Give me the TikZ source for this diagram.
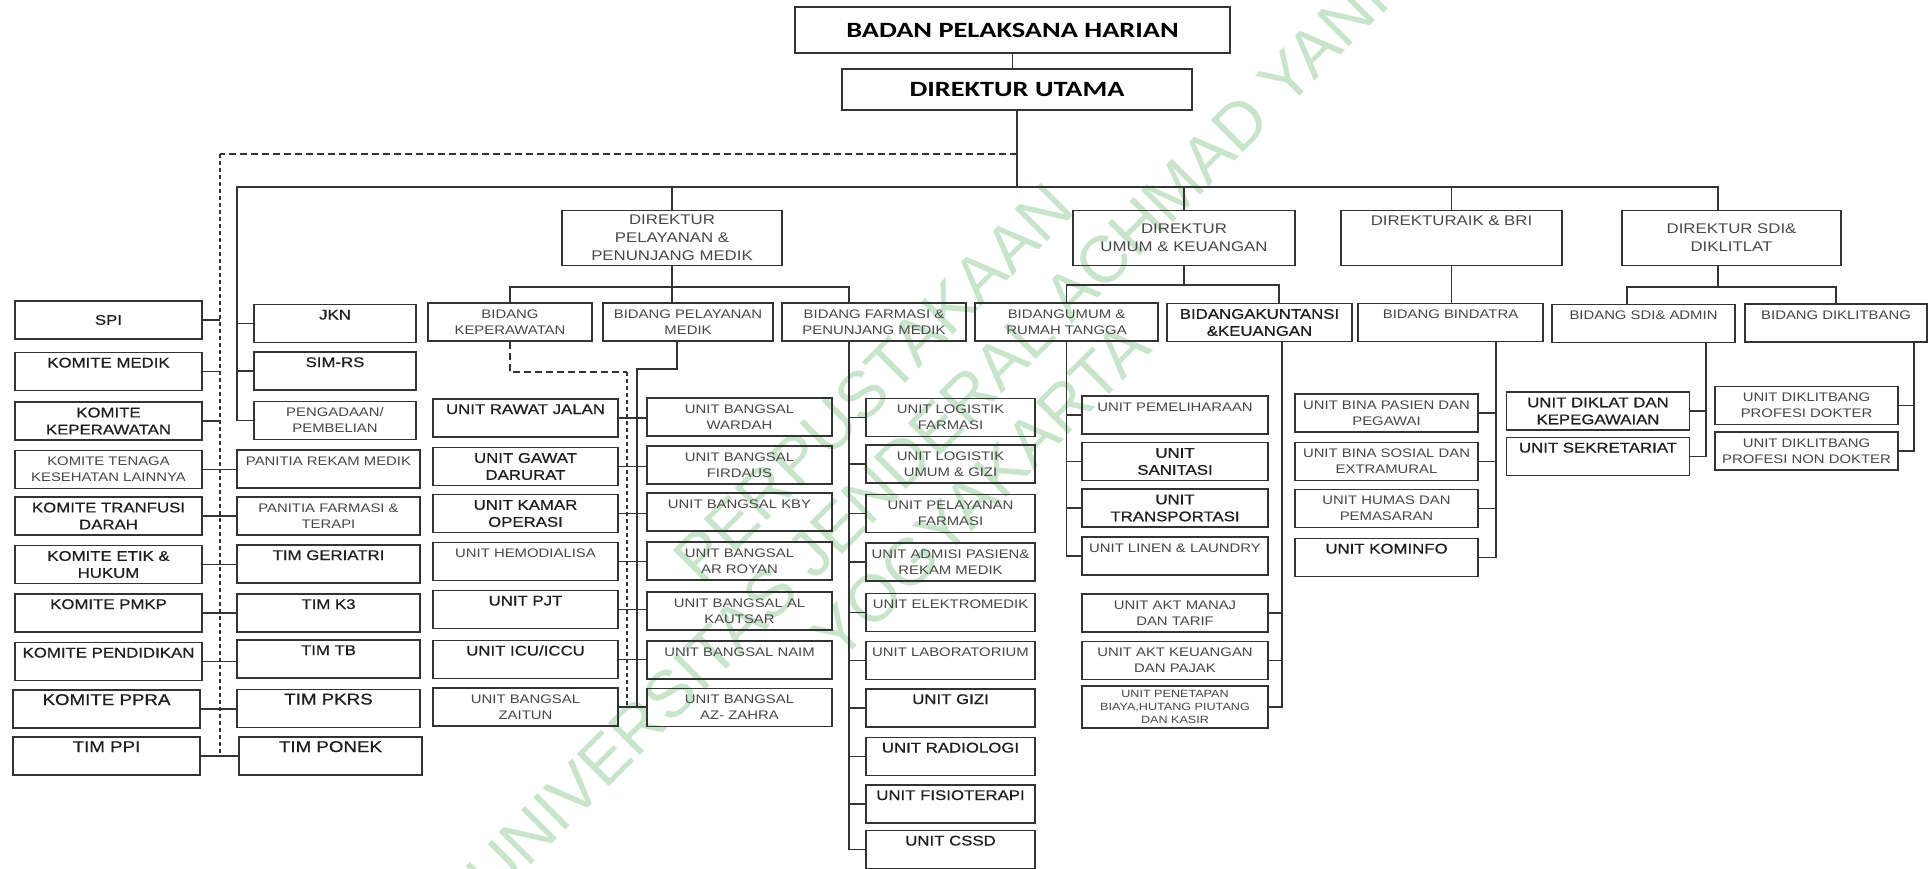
\documentclass[tikz,border=0pt]{standalone}
\usepackage{fontspec}
\setmainfont{Liberation Sans}[FakeStretch=1.2]
\newfontfamily\regfont{Liberation Sans}[FakeStretch=1.2, FakeBold=0.6]
\newfontfamily\headfont{Carlito}[FakeStretch=1.3]
\newfontfamily\markfont{Liberation Sans}
\definecolor{edge}{HTML}{333333}
\definecolor{ink}{HTML}{1E1E1E}
\definecolor{inkl}{HTML}{474747}
\definecolor{wmark}{HTML}{C8E4CA}
\newcommand\fslite{\fontsize{12.4}{16}\selectfont}
\newcommand\fsreg{\regfont\fontsize{14}{17}\selectfont}
\newcommand\fsbig{\regfont\fontsize{15.6}{18}\selectfont}
\newcommand\fsdir{\fontsize{14}{18}\selectfont}
\newcommand\fstiny{\fontsize{10.5}{13}\selectfont}

\begin{document}
\begin{tikzpicture}[x=1pt, y=-1pt,
  box/.style={draw=edge, line width=1.8pt, inner xsep=1pt, inner ysep=4pt, align=center,
              minimum height=38pt, text=ink, font=\fsreg},
  lite/.style={text=inkl, font=\fslite},
  big/.style={font=\fsbig},
  toptext/.style={text height=11pt, text depth=19pt},
  head/.style={box, text=black, font=\headfont\bfseries\fontsize{21.8}{26}\selectfont},
  dir/.style={box, text=inkl, font=\fsdir, minimum height=55pt},
  bd/.style={box, lite},
  kom/.style={box, minimum width=187pt},
  jk/.style={box, minimum width=162pt},
  pan/.style={box, minimum width=183pt},
  ua/.style={box, minimum width=185pt},
  uf/.style={box, minimum width=169pt},
  uu/.style={box, minimum width=186pt},
  un/.style={box, minimum width=183pt},
  link/.style={draw=edge, line width=1.8pt},
  dsh/.style={link, dash pattern=on 7pt off 4pt},
  dot/.style={link, dash pattern=on 4pt off 3pt},
  wmk/.style={rotate=45, align=center, text=wmark, font=\markfont\fontsize{66}{76}\selectfont},
]
  \path[fill=white, use as bounding box] (0,0) rectangle (1932,869);

  \node[wmk] (wm) at (927,437) {PERPUSTAKAAN\\UNIVERSITAS JENDERAL ACHMAD YANI\\YOGYAKARTA};

  \node[head, minimum width=435pt, minimum height=46pt] (bph) at (1012.5,30) {BADAN PELAKSANA HARIAN};
  \node[head, minimum width=350pt, minimum height=41pt] (du) at (1017,89.5) {DIREKTUR UTAMA};

  \node[dir, minimum width=220pt] (dp) at (672,238) {DIREKTUR\\PELAYANAN \&\\PENUNJANG MEDIK};
  \node[dir, minimum width=222pt] (duk) at (1184,238) {DIREKTUR\\UMUM \& KEUANGAN};
  \node[dir, minimum width=221pt, text height=11pt, text depth=36pt] (drb) at (1451.5,238) {DIREKTURAIK \& BRI};
  \node[dir, minimum width=219pt] (dsd) at (1731.5,238) {DIREKTUR SDI\&\\DIKLITLAT};

  \node[bd, minimum width=164pt] (bkep) at (510,322) {BIDANG\\KEPERAWATAN};
  \node[bd, minimum width=170pt] (bpm) at (688,322) {BIDANG PELAYANAN\\MEDIK};
  \node[bd, minimum width=184pt] (bfar) at (874,322) {BIDANG FARMASI \&\\PENUNJANG MEDIK};
  \node[bd, minimum width=183pt] (bum) at (1066.5,322) {BIDANGUMUM \&\\RUMAH TANGGA};
  \node[box, minimum width=185pt] (bak) at (1259.5,322.5) {BIDANGAKUNTANSI\\\&KEUANGAN};
  \node[bd, toptext, minimum width=185pt] (bbd) at (1450.5,322.5) {BIDANG BINDATRA};
  \node[bd, toptext, minimum width=183pt] (bsa) at (1643.5,323.5) {BIDANG SDI\& ADMIN};
  \node[bd, toptext, minimum width=182pt] (bdk) at (1836,323) {BIDANG DIKLITBANG};

  \node[kom] (spi) at (108.5,320) {SPI};
  \node[kom, toptext] (kmed) at (108.5,371.5) {KOMITE MEDIK};
  \node[kom] (kkep) at (108.5,421) {KOMITE\\KEPERAWATAN};
  \node[kom, lite] (ktk) at (108.5,469.5) {KOMITE TENAGA\\KESEHATAN LAINNYA};
  \node[kom] (ktd) at (108.5,516) {KOMITE TRANFUSI\\DARAH};
  \node[kom] (keh) at (108.5,564.5) {KOMITE ETIK \&\\HUKUM};
  \node[kom, toptext] (kpm) at (108.5,613) {KOMITE PMKP};
  \node[kom, toptext] (kpd) at (108.5,661.5) {KOMITE PENDIDIKAN};
  \node[kom, big, toptext] (kpp) at (106.5,709) {KOMITE PPRA};
  \node[kom, big, toptext] (ppi) at (106.5,756) {TIM PPI};

  \node[jk, toptext] (jkn) at (335,323.5) {JKN};
  \node[jk, toptext] (sim) at (335,371) {SIM-RS};
  \node[jk, lite] (pgd) at (335,420.5) {PENGADAAN/\\PEMBELIAN};
  \node[pan, lite, toptext] (prm) at (328.5,469) {PANITIA REKAM MEDIK};
  \node[pan, lite] (pft) at (328.5,516) {PANITIA FARMASI \&\\TERAPI};
  \node[pan, toptext] (tge) at (328.5,564) {TIM GERIATRI};
  \node[pan, toptext] (tk3) at (328.5,613) {TIM K3};
  \node[pan, toptext] (ttb) at (328.5,659) {TIM TB};
  \node[pan, big, toptext] (tpk) at (328.5,708.5) {TIM PKRS};
  \node[pan, big, toptext] (tpn) at (330.5,756) {TIM PONEK};

  \node[ua, toptext] (urj) at (525.5,418) {UNIT RAWAT JALAN};
  \node[ua] (ugd) at (525.5,466.5) {UNIT GAWAT\\DARURAT};
  \node[ua] (uko) at (525.5,513.5) {UNIT KAMAR\\OPERASI};
  \node[ua, lite, toptext] (uhd) at (525.5,561.5) {UNIT HEMODIALISA};
  \node[ua, toptext] (upj) at (525.5,609.5) {UNIT PJT};
  \node[ua, toptext] (uic) at (525.5,659.5) {UNIT ICU/ICCU};
  \node[ua, lite] (uzt) at (525.5,707) {UNIT BANGSAL\\ZAITUN};

  \node[ua, lite] (uwd) at (739.5,417) {UNIT BANGSAL\\WARDAH};
  \node[ua, lite] (ufd) at (739.5,465) {UNIT BANGSAL\\FIRDAUS};
  \node[ua, lite, toptext] (ukb) at (739.5,512) {UNIT BANGSAL KBY};
  \node[ua, lite] (uar) at (739.5,561) {UNIT BANGSAL\\AR ROYAN};
  \node[ua, lite] (ukt) at (739.5,611) {UNIT BANGSAL AL\\KAUTSAR};
  \node[ua, lite, toptext] (unm) at (739.5,660) {UNIT BANGSAL NAIM};
  \node[ua, lite] (uaz) at (739.5,707.5) {UNIT BANGSAL\\AZ- ZAHRA};

  \node[uf, lite] (ulf) at (950.5,417.5) {UNIT LOGISTIK\\FARMASI};
  \node[uf, lite] (ulu) at (950.5,464) {UNIT LOGISTIK\\UMUM \& GIZI};
  \node[uf, lite] (upf) at (950.5,513.5) {UNIT PELAYANAN\\FARMASI};
  \node[uf, lite] (uap) at (950.5,562) {UNIT ADMISI PASIEN\&\\REKAM MEDIK};
  \node[uf, lite, toptext] (uel) at (950.5,612.5) {UNIT ELEKTROMEDIK};
  \node[uf, lite, toptext] (ulb) at (950.5,660.5) {UNIT LABORATORIUM};
  \node[uf, toptext] (ugz) at (950.5,708) {UNIT GIZI};
  \node[uf, toptext] (urd) at (950.5,756.5) {UNIT RADIOLOGI};
  \node[uf, toptext] (ufs) at (950.5,804) {UNIT FISIOTERAPI};
  \node[uf, toptext] (ucs) at (950.5,849.5) {UNIT CSSD};

  \node[uu, lite, toptext] (upm) at (1175,415) {UNIT PEMELIHARAAN};
  \node[uu] (usn) at (1175,461.5) {UNIT\\SANITASI};
  \node[uu] (utr) at (1175,508) {UNIT\\TRANSPORTASI};
  \node[uu, lite, toptext] (ull) at (1175,556) {UNIT LINEN \& LAUNDRY};
  \node[uu, lite] (umt) at (1175,613) {UNIT AKT MANAJ\\DAN TARIF};
  \node[uu, lite] (ukp) at (1175,660.5) {UNIT AKT KEUANGAN\\DAN PAJAK};
  \node[uu, lite, font=\fstiny] (upb) at (1175,707) {UNIT PENETAPAN\\BIAYA,HUTANG PIUTANG\\DAN KASIR};

  \node[un, lite] (ubp) at (1386.5,413) {UNIT BINA PASIEN DAN\\PEGAWAI};
  \node[un, lite] (ubs) at (1386.5,461.5) {UNIT BINA SOSIAL DAN\\EXTRAMURAL};
  \node[un, lite] (uhm) at (1386.5,508.5) {UNIT HUMAS DAN\\PEMASARAN};
  \node[un, toptext] (ukm) at (1386.5,557.5) {UNIT KOMINFO};

  \node[un] (udk) at (1598,411) {UNIT DIKLAT DAN\\KEPEGAWAIAN};
  \node[un, toptext] (usk) at (1598,456.5) {UNIT SEKRETARIAT};
  \node[un, lite] (upd) at (1806.5,405.5) {UNIT DIKLITBANG\\PROFESI DOKTER};
  \node[un, lite] (unp) at (1806.5,451) {UNIT DIKLITBANG\\PROFESI NON DOKTER};

  \coordinate (main) at (237,187);
  \coordinate (mainr) at (1718,187);
  \coordinate (dash) at (220,154);
  \draw[link] (bph.south) -- (bph.south |- du.north);
  \draw[link] (du.south) -- (du.south |- main);
  \draw[link] (mainr |- dsd.north) -- (mainr) -- (main) -- (main |- pgd);
  \draw[link] (main |- jkn) -- (jkn.west) (main |- sim) -- (sim.west) (main |- pgd) -- (pgd.west);
  \draw[dsh] (du.south |- dash) -- (dash);
  \draw[dot] (dash) -- (dash |- ppi);
  \draw[link] (spi.east) -- (spi.east -| dash) (kmed.east) -- (kmed.east -| dash)
    (kkep.east) -- (kkep.east -| dash);
  \draw[link] (ktk.east) -- (ktk.east -| prm.west) (ktd.east) -- (ktd.east -| pft.west)
    (keh.east) -- (keh.east -| tge.west) (kpm.east) -- (kpm.east -| tk3.west)
    (kpd.east) -- (kpd.east -| ttb.west) (kpp.east) -- (kpp.east -| tpk.west)
    (ppi.east) -- (ppi.east -| tpn.west);

  \coordinate (pbus) at (849,287);
  \coordinate (ptr) at (637,369);
  \coordinate (ktr) at (627,372);
  \draw[link] (dp.north) -- (dp.north |- main);
  \draw[link] (dp.south) -- (dp.south |- bpm.north);
  \draw[link] (bkep.north) |- (pbus) -- (pbus |- bfar.north);
  \draw[link] (pbus |- bfar.south) |- (ucs.west);
  \draw[link] (pbus |- ulf) -- (ulf.west) (pbus |- ulu) -- (ulu.west) (pbus |- upf) -- (upf.west)
    (pbus |- uap) -- (uap.west) (pbus |- uel) -- (uel.west) (pbus |- ulb) -- (ulb.west)
    (pbus |- ugz) -- (ugz.west) (pbus |- urd) -- (urd.west) (pbus |- ufs) -- (ufs.west);
  \draw[link] ([xshift=-11pt]bpm.south) |- (ptr) -- (ptr |- uaz);
  \draw[dsh] (bkep.south) |- (ktr);
  \draw[dot] (ktr) -- (ktr |- uaz);
  \draw[link] (urj.east) -- (urj.east -| uwd.west) (ugd.east) -- (ugd.east -| ufd.west)
    (uko.east) -- (uko.east -| ukb.west) (uhd.east) -- (uhd.east -| uar.west)
    (upj.east) -- (upj.east -| ukt.west) (uic.east) -- (uic.east -| unm.west)
    (uzt.east) -- (uzt.east -| uaz.west);

  \coordinate (abus) at (1279,285);
  \coordinate (atr) at ([xshift=22.5pt]bak.south);
  \draw[link] (duk.north) -- (duk.north |- main);
  \draw[link] (duk.south) -- (duk.south |- abus);
  \draw[link] (bum.north) |- (abus) -- (abus |- bak.north);
  \draw[link] (bum.south) |- (ull.west) (bum.south |- upm) -- (upm.west)
    (bum.south |- usn) -- (usn.west) (bum.south |- utr) -- (utr.west);
  \draw[link] (atr) |- (upb.east) (umt.east) -- (umt.east -| atr) (ukp.east) -- (ukp.east -| atr);

  \coordinate (btr) at ([xshift=45.5pt]bbd.south);
  \draw[link] (drb.north) -- (drb.north |- main) (drb.south) -- (drb.south |- bbd.north);
  \draw[link] (btr) |- (ukm.east) (ubp.east) -- (ubp.east -| btr) (ubs.east) -- (ubs.east -| btr)
    (uhm.east) -- (uhm.east -| btr);

  \coordinate (sbl) at (1627,287);
  \coordinate (str) at ([xshift=62.5pt]bsa.south);
  \coordinate (dtr) at ([xshift=78pt]bdk.south);
  \draw[link] (mainr |- dsd.south) -- (mainr |- sbl);
  \draw[link] (sbl |- bsa.north) -- (sbl) -- (sbl -| bdk.north) -- (bdk.north);
  \draw[link] (str) |- (usk.east) (udk.east) -- (udk.east -| str);
  \draw[link] (dtr) |- (unp.east) (upd.east) -- (upd.east -| dtr);
\end{tikzpicture}
\end{document}
